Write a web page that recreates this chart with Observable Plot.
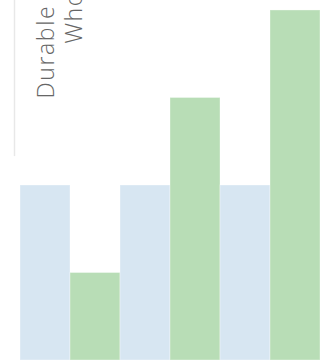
<!DOCTYPE html>
<html>
<head>
<meta charset="utf-8">
<script src="https://cdn.jsdelivr.net/npm/d3@7"></script>
<script src="https://cdn.jsdelivr.net/npm/@observablehq/plot@0.6"></script>
<style>
  html, body { margin: 0; padding: 0; background: #fff; }
  #chart svg { display: block; }
  #chart text { letter-spacing: 1.6px; }
</style>
</head>
<body>
<div id="chart"></div>
<script>
// Three groups, each with a reference bar and a measured bar
const groups = ["Durable", "Wholesale", "Retail"];
const series = ["Reference", "Measured"];
const referenceValues = [100, 100, 100];
const measuredValues = [50, 150, 200];
const labelLines = ["Durable", "Wholesale"];

const colors = {Reference: "#d7e6f2", Measured: "#b8ddb6"};

const rows = groups.flatMap((g, i) => [
  {group: g, series: "Reference", key: `${g}|Reference`, value: referenceValues[i]},
  {group: g, series: "Measured", key: `${g}|Measured`, value: measuredValues[i]}
]);

const labelStyle = {
  frameAnchor: "top-left", rotate: -90,
  textAnchor: "start", lineAnchor: "bottom",
  fontSize: 23, fontFamily: "Open Sans", fontWeight: 350, fill: "#666"
};

const chart = Plot.plot({
  width: 321,
  height: 360,
  marginTop: 0,
  marginRight: 0,
  marginBottom: 0,
  marginLeft: 19,
  x: {domain: rows.map(d => d.key), padding: 0, axis: null},
  y: {domain: [0, 205.7], axis: null},
  color: {domain: series, range: series.map(s => colors[s])},
  marks: [
    Plot.ruleX({length: 1}, {x: null, y1: 116.5, y2: 205.7, dx: -156, stroke: "#e8e8e8", strokeWidth: 1.5}),
    Plot.barY(rows, {x: "key", y: "value", fill: "series", stroke: "white", strokeOpacity: 0.35, strokeWidth: 1}),
    Plot.text([labelLines[0]], {...labelStyle, dx: 34.5, dy: 98}),
    Plot.text([labelLines[1]], {...labelStyle, dx: 62, dy: 43})
  ]
});
document.getElementById("chart").append(chart);
</script>
</body>
</html>
